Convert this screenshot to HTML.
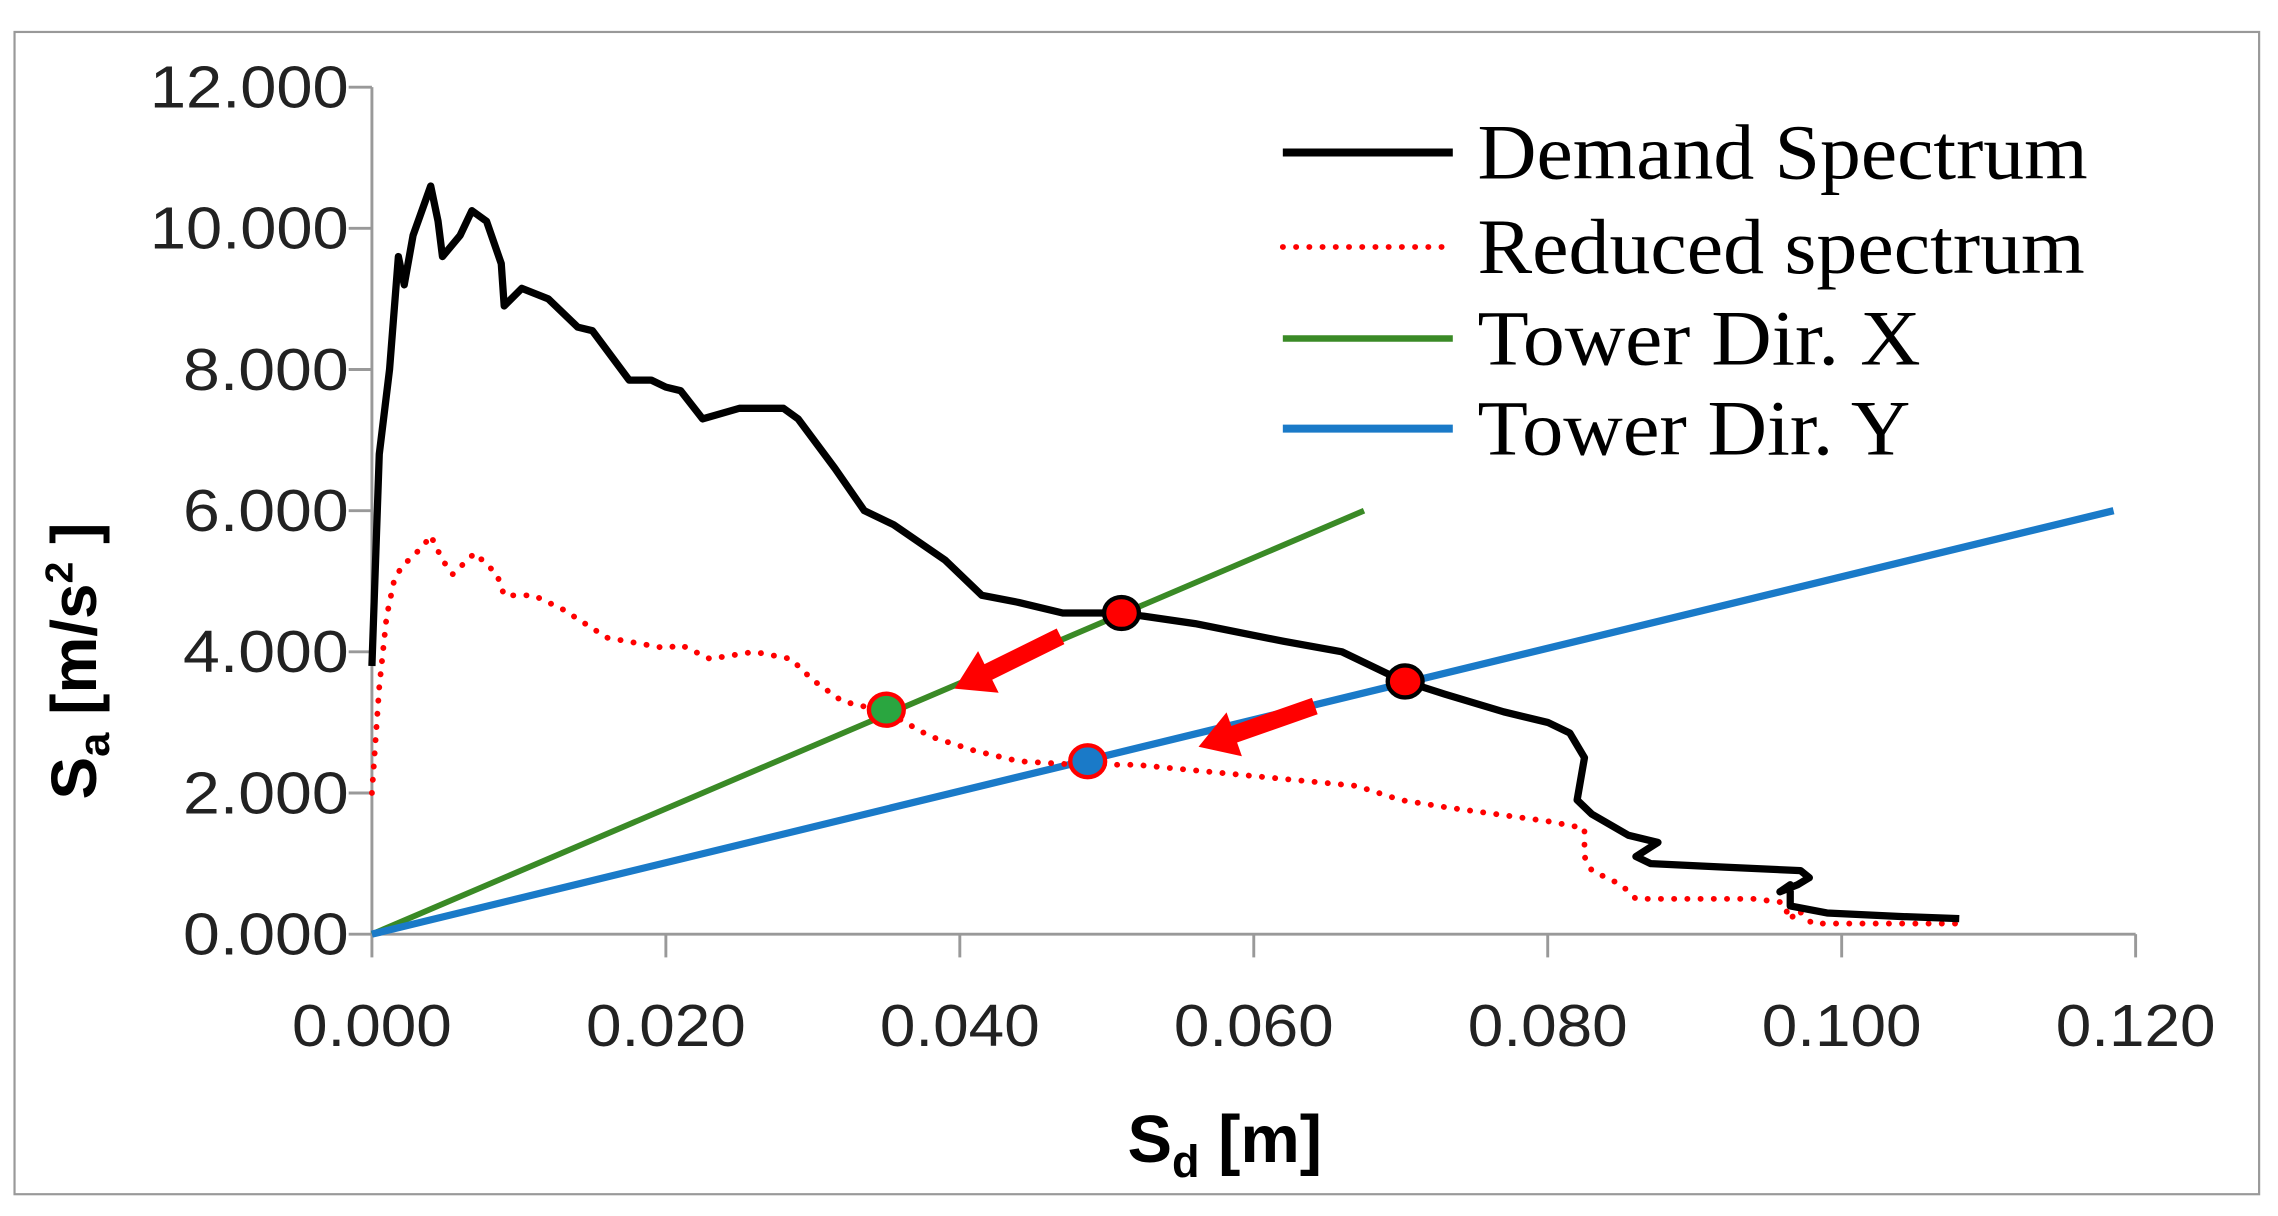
<!DOCTYPE html>
<html><head><meta charset="utf-8"><style>
html,body{margin:0;padding:0;background:#fff;}
svg{display:block;}
</style></head><body>
<svg width="2278" height="1216" viewBox="0 0 1568 837" xmlns="http://www.w3.org/2000/svg">
<rect x="10" y="22" width="1545" height="800" fill="#fff" stroke="#999" stroke-width="1.5"/>
<g id="axes"></g>
<g id="series"></g>
<g id="legend">
  <line x1="883" y1="105" x2="1000" y2="105" stroke="#000" stroke-width="5.5"/>
  <text x="1017" y="123" font-family="Liberation Serif, serif" font-size="54" textLength="420" lengthAdjust="spacingAndGlyphs">Demand Spectrum</text>
  <line x1="883" y1="170" x2="1000" y2="170" stroke="#f00" stroke-width="4" stroke-dasharray="0.1 9" stroke-linecap="round"/>
  <text x="1017" y="188" font-family="Liberation Serif, serif" font-size="54" textLength="418" lengthAdjust="spacingAndGlyphs">Reduced spectrum</text>
  <line x1="883" y1="233" x2="1000" y2="233" stroke="#3a8a26" stroke-width="4.5"/>
  <text x="1017" y="251" font-family="Liberation Serif, serif" font-size="54" textLength="305" lengthAdjust="spacingAndGlyphs">Tower Dir. X</text>
  <line x1="883" y1="295" x2="1000" y2="295" stroke="#1a7ac8" stroke-width="5.5"/>
  <text x="1017" y="313" font-family="Liberation Serif, serif" font-size="54" textLength="298" lengthAdjust="spacingAndGlyphs">Tower Dir. Y</text>
</g>
<text transform="translate(66,455) rotate(-90)" text-anchor="middle" font-family="Liberation Sans, sans-serif" font-weight="bold" font-size="44">S<tspan font-size="30" dy="9">a</tspan><tspan dy="-9"> [m/s</tspan><tspan font-size="27" dy="-16">2</tspan><tspan dy="16"> ]</tspan></text>
<text x="843" y="800" text-anchor="middle" font-family="Liberation Sans, sans-serif" font-weight="bold" font-size="46">S<tspan font-size="31" dy="10">d</tspan><tspan dy="-10">   [m]</tspan></text>
</svg>
<script>
const xTicks=[0,0.02,0.04,0.06,0.08,0.1,0.12];
const xTickLabels=["0.000","0.020","0.040","0.060","0.080","0.100","0.120"];
const yTicks=[0,2,4,6,8,10,12];
const yTickLabels=["0.000","2.000","4.000","6.000","8.000","10.000","12.000"];
const demandSd=[0,0.0005,0.0012,0.0018,0.0022,0.0028,0.004,0.0045,0.0048,0.006,0.0068,0.0078,0.0088,0.009,0.0102,0.012,0.014,0.015,0.0175,0.019,0.020,0.021,0.0225,0.025,0.028,0.029,0.0315,0.0335,0.0355,0.039,0.0415,0.044,0.047,0.051,0.056,0.062,0.066,0.070,0.073,0.077,0.080,0.0815,0.0825,0.082,0.083,0.0855,0.0875,0.086,0.087,0.092,0.0972,0.0978,0.097,0.0958,0.0965,0.0965,0.099,0.104,0.108];
const demandSa=[3.8,6.8,8.0,9.6,9.2,9.9,10.6,10.1,9.6,9.9,10.25,10.1,9.5,8.9,9.15,9.0,8.6,8.55,7.85,7.85,7.75,7.7,7.3,7.45,7.45,7.3,6.6,6.0,5.8,5.3,4.8,4.7,4.55,4.55,4.4,4.15,4.0,3.6,3.4,3.15,3.0,2.85,2.5,1.9,1.7,1.4,1.3,1.1,1.0,0.95,0.9,0.8,0.7,0.6,0.7,0.4,0.3,0.25,0.22];
const reducedSd=[0,0.0005,0.001,0.0015,0.002,0.0035,0.004,0.0048,0.0055,0.007,0.0085,0.009,0.011,0.013,0.016,0.020,0.021,0.023,0.026,0.0285,0.030,0.032,0.035,0.038,0.041,0.044,0.048,0.052,0.057,0.062,0.067,0.070,0.073,0.080,0.0825,0.0825,0.083,0.085,0.086,0.088,0.094,0.096,0.0965,0.097,0.098,0.100,0.104,0.108];
const reducedSa=[2.0,3.5,4.5,5.0,5.2,5.5,5.65,5.3,5.1,5.4,5.1,4.8,4.8,4.6,4.2,4.05,4.1,3.9,4.0,3.9,3.6,3.3,3.15,2.8,2.6,2.45,2.4,2.4,2.3,2.2,2.1,1.9,1.8,1.6,1.5,1.1,0.9,0.7,0.5,0.5,0.5,0.45,0.2,0.35,0.15,0.15,0.15,0.15];
const towerXSd=[0,0.0675];
const towerXSa=[0,6.0];
const towerYSd=[0,0.1185];
const towerYSa=[0,6.0];
const perfSd=[0.051,0.0703];
const perfSa=[4.55,3.58];
const reducedPtSd=[0.035,0.0487];
const reducedPtSa=[3.18,2.45];
const reducedPtColors=["#2aa640","#1a7ac8"];

const NS="http://www.w3.org/2000/svg";
const X=v=>256+v/0.12*(1470-256);
const Y=v=>643-v/12*(643-60);
function mk(tag,attrs,parent){const e=document.createElementNS(NS,tag);for(const k in attrs)e.setAttribute(k,attrs[k]);parent.appendChild(e);return e;}
const axes=document.getElementById('axes');
const series=document.getElementById('series');
const ax=mk('line',{x1:256,y1:60,x2:256,y2:643,stroke:'#999','stroke-width':2},axes);


const bx=mk('line',{x1:256,y1:643,x2:1470,y2:643,stroke:'#999','stroke-width':2},axes);


yTicks.forEach((t,i)=>{
  mk('line',{x1:240,y1:Y(t),x2:256,y2:Y(t),stroke:'#999','stroke-width':2},axes);
  const tx=mk('text',{x:240,y:Y(t)+14,'text-anchor':'end','font-family':'Liberation Sans, sans-serif','font-size':41,fill:'#222',textLength:(yTickLabels[i].length*22.8),lengthAdjust:'spacingAndGlyphs'},axes);
  tx.textContent=yTickLabels[i];
  
  
});
xTicks.forEach((t,i)=>{
  mk('line',{x1:X(t),y1:643,x2:X(t),y2:659,stroke:'#999','stroke-width':2},axes);
  const tx=mk('text',{x:X(t),y:720,'text-anchor':'middle','font-family':'Liberation Sans, sans-serif','font-size':41,fill:'#222',textLength:110,lengthAdjust:'spacingAndGlyphs'},axes);
  tx.textContent=xTickLabels[i];
  
  
});
function pts(xs,ys){return xs.map((v,i)=>X(v)+','+Y(ys[i])).join(' ');}
const lx=mk('polyline',{points:pts(towerXSd,towerXSa),fill:'none',stroke:'#3a8a26','stroke-width':4},series);


const ly=mk('polyline',{points:pts(towerYSd,towerYSa),fill:'none',stroke:'#1a7ac8','stroke-width':5},series);


const rd=mk('polyline',{points:pts(reducedSd,reducedSa),fill:'none',stroke:'#f00','stroke-width':4,'stroke-dasharray':'0.1 9','stroke-linecap':'round','stroke-linejoin':'round'},series);


const dm=mk('polyline',{points:pts(demandSd,demandSa),fill:'none',stroke:'#000','stroke-width':5,'stroke-linejoin':'round'},series);


function arrow(x1,y1,x2,y2){
  const dx=x2-x1,dy=y2-y1,L=Math.hypot(dx,dy),ux=dx/L,uy=dy/L,nx=-uy,ny=ux;
  const hl=26,hw=16,sw=6;
  const bx=x2-ux*hl,by=y2-uy*hl;
  const p=[[x1+nx*sw,y1+ny*sw],[bx+nx*sw,by+ny*sw],[bx+nx*hw,by+ny*hw],[x2,y2],[bx-nx*hw,by-ny*hw],[bx-nx*sw,by-ny*sw],[x1-nx*sw,y1-ny*sw]];
  const a=mk('polygon',{points:p.map(q=>q.join(',')).join(' '),fill:'#f00'},series);
  
  
}
arrow(730,438,657,474);
arrow(905,486,825,514);
perfSd.forEach((v,i)=>{
  const c=mk('ellipse',{cx:X(v),cy:Y(perfSa[i]),rx:12,ry:11,fill:'#f00',stroke:'#000','stroke-width':3},series);
  
  
});
reducedPtSd.forEach((v,i)=>{
  const c=mk('ellipse',{cx:X(v),cy:Y(reducedPtSa[i]),rx:12,ry:11,fill:reducedPtColors[i],stroke:'#f00','stroke-width':3},series);
  
  
});
</script>
</body></html>
